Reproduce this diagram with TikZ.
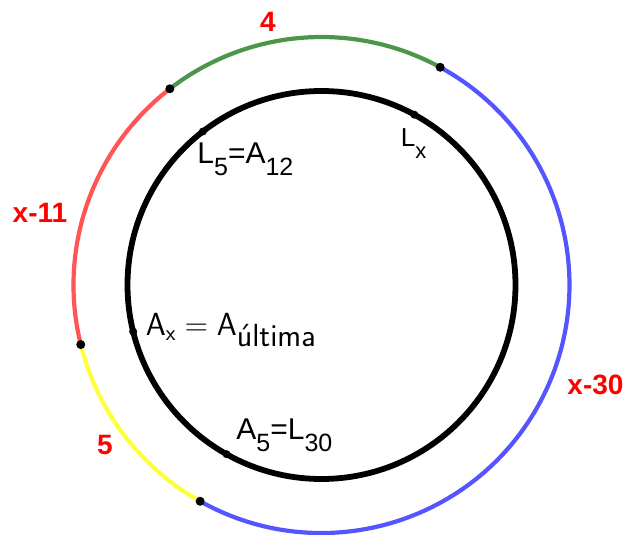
\documentclass[tikz,border=0pt]{standalone}
\usepackage{fix-cm}
\usepackage{fontspec}
\newfontfamily\arialfont{Liberation Sans}
\usetikzlibrary{calc}
\definecolor{arcred}{RGB}{255,85,85}
\definecolor{arcgreen}{RGB}{76,150,76}
\definecolor{arcblue}{RGB}{85,85,255}
\definecolor{arcyellow}{RGB}{255,255,64}
\definecolor{numred}{RGB}{255,0,0}
\newcommand{\lsub}[2][25]{\raisebox{-12pt}{\fontsize{#1}{#1}\selectfont #2}}

\begin{document}
\begin{tikzpicture}[
  x=1pt,y=1pt,
  outerarc/.style={line width=4.2pt},
  innerring/.style={line width=5.8pt},
  dot/.style={circle,fill=black,inner sep=0pt,minimum size=9pt},
  smalldot/.style={circle,fill=black,inner sep=0pt,minimum size=8pt},
  pointlabel/.style={font=\arialfont\fontsize{30}{30}\selectfont,inner sep=0pt,anchor=base west},
  arclabel/.style={font=\arialfont\bfseries\fontsize{28}{28}\selectfont,text=numred,inner sep=0pt},
]
  \useasboundingbox (-321.5,-250) rectangle (307.5,285);

  % Outer ring: four coloured arcs
  \draw[outerarc,arcgreen] (61.4:248) arc[start angle=61.4,end angle=127.7,radius=248];
  \draw[outerarc,arcred] (127.7:248) arc[start angle=127.7,end angle=193.9,radius=248];
  \draw[outerarc,arcyellow] (193.9:248) arc[start angle=193.9,end angle=240.7,radius=248];
  \draw[outerarc,arcblue] (240.7:248) arc[start angle=240.7,end angle=421.4,radius=248];

  % Inner ring
  \draw[innerring] (0,0) circle[radius=194];

  % Points on the outer ring
  \node[dot] (o1) at (61.4:248) {};
  \node[dot] (o2) at (127.7:248) {};
  \node[dot] (o3) at (193.9:248) {};
  \node[dot] (o4) at (240.7:248) {};

  % Points on the inner ring
  \node[smalldot] (i1) at (61.4:194) {};
  \node[smalldot] (i2) at (127.7:194) {};
  \node[smalldot] (i3) at (193.9:194) {};
  \node[smalldot] (i4) at (240.7:194) {};

  % Point labels
  \node[pointlabel,font=\arialfont\fontsize{26}{26}\selectfont] (llx) at ($(i1)+(-13.7,-31.7)$) {L\lsub[22]{x}};
  \node[pointlabel] (lfive) at ($(i2)+(-5.6,-32.3)$) {L\lsub{5}=A\lsub{12}};
  \node[pointlabel,font=\fontsize{32}{32}\selectfont] (lax) at ($(i3)+(12.4,-4)$)
    {$\mathsf{A}_{\mathsf{x}}=\mathsf{A}_{\textsf{última}}$};
  \node[pointlabel] (lafive) at ($(i4)+(9.7,14.4)$) {A\lsub{5}=L\lsub{30}};

  % Arc lengths
  \node[arclabel] (nfour) at (-53.5,263.3) {4};
  \node[arclabel] (nxeleven) at (-281.5,72) {x-11};
  \node[arclabel] (nxthirty) at (274,-100) {x-30};
  \node[arclabel] (nfive) at (-216.5,-160) {5};
\end{tikzpicture}
\end{document}
